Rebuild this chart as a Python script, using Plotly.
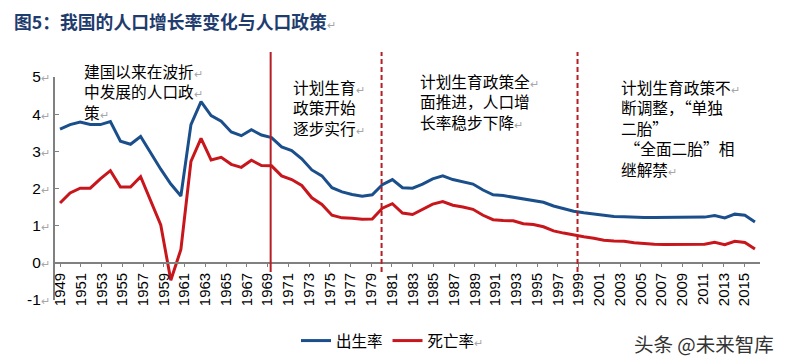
import plotly.graph_objects as go

# ---------------- data ----------------
years = list(range(1949, 2019))
birth_rate = [3.60, 3.72, 3.79, 3.72, 3.72, 3.80, 3.27, 3.19, 3.40, 2.95,
              2.52, 2.12, 1.80, 3.72, 4.34, 3.96, 3.81, 3.52, 3.42, 3.58,
              3.44, 3.37, 3.12, 3.02, 2.80, 2.50, 2.34, 2.02, 1.91, 1.84,
              1.79, 1.83, 2.10, 2.24, 2.02, 2.01, 2.12, 2.26, 2.34, 2.24,
              2.17, 2.12, 1.96, 1.83, 1.81, 1.77, 1.72, 1.69, 1.63, 1.53,
              1.46, 1.39, 1.35, 1.31, 1.27, 1.25, 1.24, 1.22, 1.22, 1.22,
              1.22, 1.22, 1.22, 1.22, 1.23, 1.27, 1.21, 1.31, 1.28, 1.10]
death_rate = [1.61, 1.88, 2.01, 2.01, 2.26, 2.48, 2.04, 2.04, 2.32, 1.69,
              1.02, -0.47, 0.36, 2.73, 3.35, 2.77, 2.84, 2.65, 2.57, 2.76,
              2.62, 2.61, 2.34, 2.24, 2.08, 1.75, 1.57, 1.28, 1.21, 1.20,
              1.17, 1.18, 1.47, 1.59, 1.34, 1.30, 1.43, 1.58, 1.65, 1.55,
              1.50, 1.44, 1.28, 1.16, 1.14, 1.13, 1.05, 1.03, 0.97, 0.86,
              0.80, 0.74, 0.70, 0.66, 0.61, 0.59, 0.58, 0.54, 0.51, 0.50,
              0.49, 0.49, 0.49, 0.50, 0.50, 0.55, 0.49, 0.58, 0.55, 0.37]
label_years = list(range(1949, 2016, 2))          # x tick labels (label axis 1949-2016)
y_ticks = [-1, 0, 1, 2, 3, 4, 5]
policy_years = [1969.3, 1980.0, 1998.9]
policy_dash = ["solid", "5px,3px", "5px,3px"]

series_names = ["出生率", "死亡率"]
title_text = "图5：我国的人口增长率变化与人口政策"
notes = [
    "建国以来在波折{m}<br>中发展的人口政{m}<br>策{m}",
    "计划生育{m}<br>政策开始<br>逐步实行{m}",
    "计划生育政策全{m}<br>面推进，人口增<br>长率稳步下降{m}",
    "计划生育政策不{m}<br>断调整，“单独<br>二胎”<br>\u00a0“全面二胎”相<br>继解禁{m}",
]
watermark = "头条 @未来智库"

# ---------------- style ----------------
W, H = 787, 364
ML, MR, MT, MB = 55, 27, 77, 64
BLUE = "#1B4F8C"
RED = "#C8161D"
VLINE = "#B51E24"
GREY = "#808080"
CJK = "Noto Sans CJK SC, Noto Sans, sans-serif"
LAT = "Liberation Sans, Arial, sans-serif"
MARK = "<span style='color:#A6A6A6;font-size:11px'>↵</span>"

ymin, ymax = y_ticks[0], y_ticks[-1]


def px_x(p):
    return (p - ML) / (W - ML - MR)


def px_y(p):
    return (H - MB - p) / (H - MT - MB)


fig = go.Figure()
fig.add_trace(go.Scatter(x=years, y=birth_rate, name=series_names[0], mode="lines",
                         line=dict(color=BLUE, width=3), xaxis="x", yaxis="y"))
fig.add_trace(go.Scatter(x=years, y=death_rate, name=series_names[1] + MARK, mode="lines",
                         line=dict(color=RED, width=3), xaxis="x", yaxis="y"))

for yr, dsh in zip(policy_years, policy_dash):
    fig.add_shape(type="line", xref="x2", yref="paper", x0=yr, x1=yr,
                  y0=px_y(272), y1=px_y(52),
                  line=dict(color=VLINE, width=2, dash=dsh))

note_pos = [(82, 58), (291, 74), (418, 68), (619, 74)]
for txt, (ax, ay) in zip(notes, note_pos):
    fig.add_annotation(text=txt.format(m=MARK), xref="paper", yref="paper",
                       x=px_x(ax), y=px_y(ay), xanchor="left", yanchor="top",
                       align="left", showarrow=False,
                       font=dict(family=CJK, size=15.7, color="#000000"))

fig.add_annotation(text=watermark, xref="paper", yref="paper",
                   x=px_x(632), y=px_y(343), xanchor="left", yanchor="middle",
                   showarrow=False, font=dict(family=CJK, size=19.5, color="#333333"))

fig.update_layout(
    width=W, height=H,
    margin=dict(l=ML, r=MR, t=MT, b=MB, autoexpand=False),
    paper_bgcolor="white", plot_bgcolor="white",
    title=dict(text="<b>" + title_text + "</b>" + MARK, xref="container", yref="container",
               x=14 / W, xanchor="left", y=1 - 22.5 / H, yanchor="middle",
               font=dict(family=CJK, size=17.8, color="#1F3C6E")),
    xaxis=dict(range=[years[0] - 0.5, years[-1] + 0.5], visible=False, domain=[0, 1]),
    xaxis2=dict(range=[label_years[0] - 0.5, 2016.5], overlaying="x", anchor="free",
                position=(0 - ymin) / (ymax - ymin), side="bottom",
                tickmode="array", tickvals=label_years, ticktext=[str(v) for v in label_years],
                tickangle=-90, tickfont=dict(family=LAT, size=15, color="#000000"),
                showline=True, linecolor=GREY, linewidth=2,
                ticks="outside", ticklen=3, tickcolor=GREY, showgrid=False, zeroline=False),
    yaxis=dict(range=[ymin, ymax], tickmode="array", tickvals=y_ticks,
               ticktext=[str(v) + MARK for v in y_ticks],
               tickfont=dict(family=LAT, size=15.5, color="#000000"),
               showline=True, linecolor=GREY, linewidth=2, ticks="inside", ticklen=4,
               tickcolor=GREY, showgrid=False, zeroline=False, anchor="x"),
    showlegend=True,
    legend=dict(orientation="h", x=px_x(296), xanchor="left", y=px_y(341), yanchor="middle",
                font=dict(family=CJK, size=15.5, color="#000000"),
                bgcolor="rgba(0,0,0,0)", itemwidth=30),
)

fig.write_html("out.html")
